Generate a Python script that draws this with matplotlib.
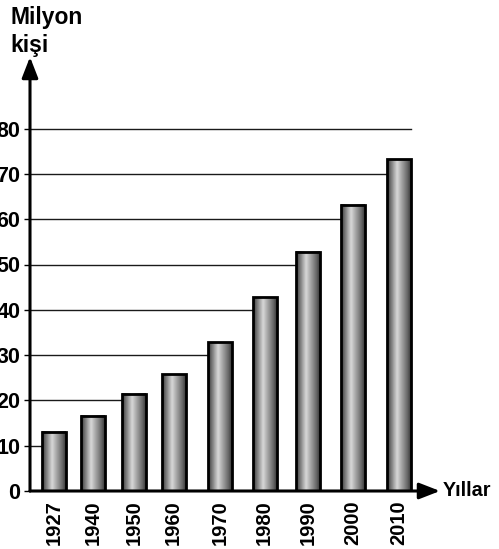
import matplotlib
matplotlib.use("Agg")
import matplotlib.pyplot as plt
import numpy as np
from matplotlib.colors import LinearSegmentedColormap

plt.rcParams["font.family"] = ["Liberation Sans", "DejaVu Sans"]

# Turkey population, millions
years = ["1927", "1940", "1950", "1960", "1970", "1980", "1990", "2000", "2010"]
population = [13.1, 16.6, 21.5, 25.8, 32.8, 42.8, 52.8, 63.2, 73.2]
levels = [10, 20, 30, 40, 50, 60, 70, 80]

# layout: bar centres along the axis (pixels from the y axis), spacing is uneven in the source
slots = [24, 63, 104, 143.5, 190, 234.7, 278, 322.5, 369]
BAR_W = 24

# metallic cylinder shading
metal = LinearSegmentedColormap.from_list(
    "metal", [(0.0, "#353535"), (0.12, "#666666"), (0.42, "#d8d8d8"),
              (0.62, "#a4a4a4"), (0.85, "#6a6a6a"), (1.0, "#383838")])
grad = np.linspace(0, 1, 64).reshape(1, -1)

fig = plt.figure(figsize=(4.99, 5.49), dpi=100)
ax = fig.add_axes([30 / 499, 58 / 549, 410 / 499, 434 / 549])
ax.set_xlim(0, 410)
ax.set_ylim(0, 434 / 4.53)

# gridlines run from the axis to the first bar that rises above them
for lv in levels:
    end = next((s - BAR_W / 2 for s, v in zip(slots, population) if v > lv),
               slots[-1] + BAR_W / 2)
    ax.plot([0, end], [lv, lv], color="#1a1a1a", lw=1.0, zorder=1)

for s, v in zip(slots, population):
    ax.imshow(grad, extent=[s - BAR_W / 2, s + BAR_W / 2, 0, v], aspect="auto",
              cmap=metal, zorder=2, interpolation="bilinear")
ax.bar(slots, population, width=BAR_W, facecolor="none", edgecolor="black",
       lw=2.0, zorder=3)

for sp in ax.spines.values():
    sp.set_visible(False)
arrow = dict(arrowstyle="-|>,head_length=0.9,head_width=0.35", lw=2.2,
             color="black", mutation_scale=14, shrinkA=0, shrinkB=0)
ax.annotate("", xy=(0, 1), xytext=(0, 0), xycoords="axes fraction", arrowprops=arrow)
ax.annotate("", xy=(1, 0), xytext=(0, 0), xycoords="axes fraction", arrowprops=arrow)

# the source crops the tick labels at the left edge, kept as is
ax.set_yticks([0] + levels)
ax.set_yticklabels([str(t) for t in [0] + levels], fontsize=15.5, fontweight="bold")
ax.tick_params(axis="y", length=4, width=1, pad=3)
ax.set_xticks(slots)
ax.set_xticklabels(years, rotation=90, fontsize=14.5, fontweight="bold")
ax.tick_params(axis="x", length=0, pad=6.5)

fig.text(10 / 499, 1 - 6 / 549, "Milyon\nkişi", va="top", ha="left",
         fontsize=16.5, fontweight="bold", linespacing=1.3)
fig.text(443 / 499, 1 - 491 / 549, "Yıllar", va="center", ha="left",
         fontsize=14.2, fontweight="bold")

fig.savefig("out.png", dpi=100)
